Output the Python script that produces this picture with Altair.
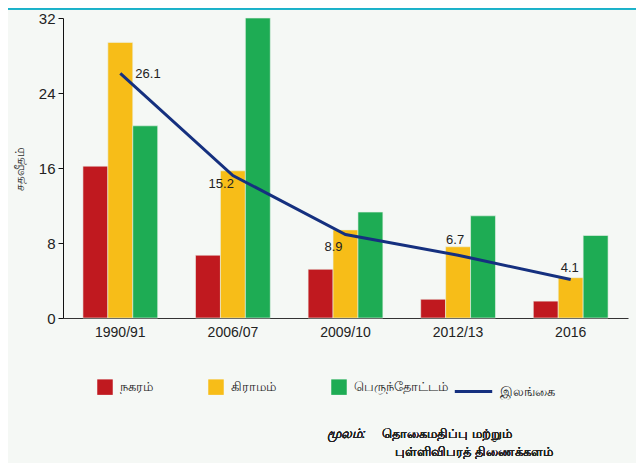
import altair as alt
import pandas as pd

years = ["1990/91", "2006/07", "2009/10", "2012/13", "2016"]
series = ["நகரம்", "கிராமம்", "பெருந்தோட்டம்"]
urban = [16.2, 6.7, 5.2, 2.0, 1.8]
rural = [29.4, 15.7, 9.4, 7.6, 4.3]
estate = [20.5, 32.0, 11.3, 10.9, 8.8]
national = [26.1, 15.2, 8.9, 6.7, 4.1]
line_name = "இலங்கை"
y_ticks = [0, 8, 16, 24, 32]
y_title = "சதவீதம்"
source_label = "மூலம்:"
source_line1 = "தொகைமதிப்பு  மற்றும்"
source_line2 = "புள்ளிவிபரத்  திணைக்களம்"

colors = ["#c0191f", "#f7bd18", "#1eac54"]
navy = "#15307f"
FONT = "Liberation Sans"

rows = []
for name, vals in zip(series, [urban, rural, estate]):
    for yr, v in zip(years, vals):
        rows.append({"year": yr, "series": name, "value": v})
bars_df = pd.DataFrame(rows)
line_df = pd.DataFrame({"year": years, "value": national, "name": [line_name] * len(years),
                        "label": [f"{v:.1f}" for v in national]})

xscale = alt.Scale(domain=years, paddingInner=0.336, paddingOuter=0.177)
yscale = alt.Scale(domain=[0, 32], nice=False)

bars = alt.Chart(bars_df).mark_bar(stroke="#e9f2ea", strokeWidth=0.6).encode(
    x=alt.X("year:N", scale=xscale, sort=years,
            axis=alt.Axis(title=None, labelAngle=0, ticks=False, labelFontSize=14,
                          labelColor="#222", labelFont=FONT, labelPadding=7,
                          domainColor="#333", domainWidth=1.2)),
    xOffset=alt.XOffset("series:N", sort=series, scale=alt.Scale(domain=series)),
    y=alt.Y("value:Q", scale=yscale,
            axis=alt.Axis(title=y_title, values=y_ticks, grid=False, tickSize=5,
                          tickColor="#111", domainColor="#111", labelFontSize=15,
                          labelColor="#222", labelFont=FONT, labelPadding=3,
                          titleFontSize=12, titleFontWeight="normal", titleColor="#333",
                          titlePadding=12)),
    fill=alt.Fill("series:N", sort=series,
                  scale=alt.Scale(domain=series, range=colors),
                  legend=alt.Legend(title=None, orient="none", legendX=34, legendY=361,
                                    direction="horizontal", columns=3, symbolType="square",
                                    symbolSize=240, symbolStrokeWidth=0, columnPadding=55,
                                    labelFontSize=13, labelColor="#222", symbolOffset=0,
                                    labelOffset=7)),
)

line = alt.Chart(line_df).mark_line(strokeWidth=3).encode(
    x=alt.X("year:N", scale=xscale, sort=years),
    y=alt.Y("value:Q", scale=yscale),
    stroke=alt.Stroke("name:N", scale=alt.Scale(domain=[line_name], range=[navy]),
                      legend=alt.Legend(title=None, orient="none", legendX=390, legendY=353,
                                        symbolType="stroke", symbolSize=1400,
                                        symbolStrokeWidth=3, labelFontSize=13,
                                        labelColor="#222", labelOffset=6)),
)

def lab(yr, align, dx, dy):
    return alt.Chart(line_df).transform_filter(alt.datum.year == yr).mark_text(
        align=align, baseline="middle", dx=dx, dy=dy, fontSize=13, font=FONT, color="#222"
    ).encode(
        x=alt.X("year:N", scale=xscale, sort=years),
        y=alt.Y("value:Q", scale=yscale),
        text="label:N",
    )

labels = [
    lab("1990/91", "left", 15, 1),
    lab("2006/07", "right", 1, 8),
    lab("2009/10", "right", -3, 12),
    lab("2012/13", "center", -3, -15),
    lab("2016", "center", -1, -12),
]

top_rule = alt.Chart(line_df).mark_rule(color="#1ab1c9", strokeWidth=3).encode(
    x=alt.value(-55), x2=alt.value(575), y=alt.value(-10)
)

src_a = alt.Chart(line_df).mark_text(align="left", baseline="middle", fontSize=13,
                                     fontStyle="italic", color="#222").encode(
    x=alt.value(264), y=alt.value(416), text=alt.value(source_label))
src_b = alt.Chart(line_df).mark_text(align="left", baseline="middle", fontSize=13,
                                     color="#222").encode(
    x=alt.value(319), y=alt.value(416), text=alt.value(source_line1))
src_c = alt.Chart(line_df).mark_text(align="left", baseline="middle", fontSize=13,
                                     color="#222").encode(
    x=alt.value(332), y=alt.value(434), text=alt.value(source_line2))

chart = alt.layer(top_rule, bars, line, *labels, src_a, src_b, src_c).resolve_scale(
    fill="independent", stroke="independent"
).properties(
    width=565, height=300,
    autosize=alt.AutoSizeParams(type="none"),
    padding={"left": 55, "top": 10, "right": 8, "bottom": 145},
    background="#f5f8f5",
).configure_view(stroke=None)

chart.save("out.html", embed_options={"renderer": "svg", "actions": False})
